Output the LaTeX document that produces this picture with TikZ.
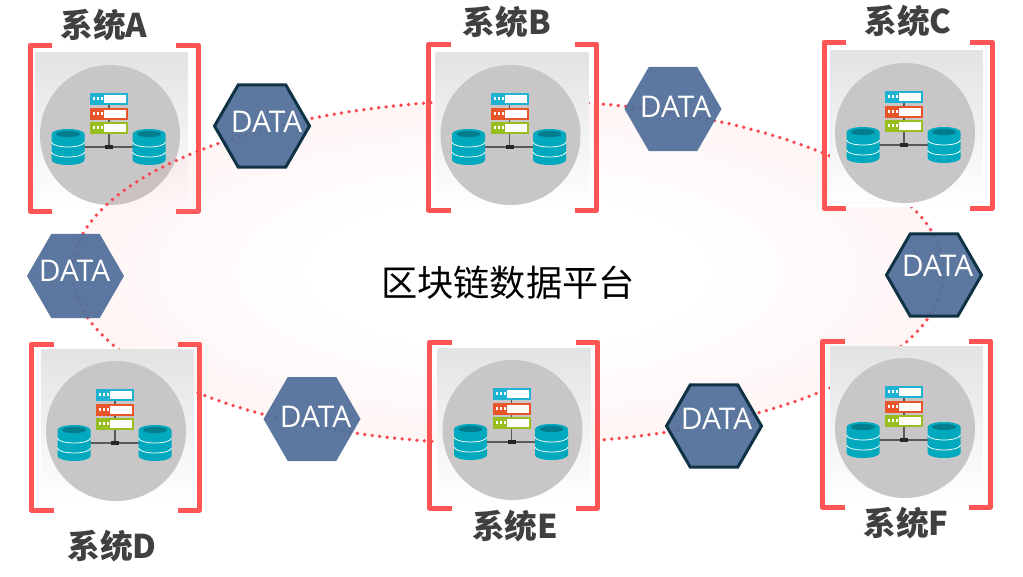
\documentclass[tikz,border=0pt]{standalone}
\usepackage{fontspec}
\setmainfont{Open Sans}
\newfontfamily\cjk{Noto Sans CJK SC}
\usetikzlibrary{shapes.geometric}

\definecolor{bracketred}{HTML}{FF5555}
\definecolor{dotred}{HTML}{F9474E}
\definecolor{hexblue}{HTML}{506E9A}
\definecolor{hexdark}{HTML}{0F3345}
\definecolor{labelgray}{HTML}{404040}
\definecolor{discgray}{HTML}{C8C6C6}
\definecolor{dbteal}{HTML}{00A9BE}
\definecolor{dbdark}{HTML}{007E8F}
\definecolor{srvblue}{HTML}{1FB3D1}
\definecolor{srvred}{HTML}{E8552A}
\definecolor{srvgreen}{HTML}{97BE1E}
\definecolor{chainpink}{HTML}{FF8C8C}

\pgfdeclareradialshading{chainglow}{\pgfpoint{0bp}{0bp}}{color(0bp)=(white); color(11bp)=(white); color(25bp)=(chainpink); color(50bp)=(chainpink)}

\tikzset{
    hexdata/.style={regular polygon, regular polygon sides=6, fill=hexblue, fill opacity=0.93, inner sep=0pt, minimum size=19.4mm},
    hexedge/.style={hexdata, draw=hexdark, draw opacity=1, line width=0.6mm, minimum size=19mm},
    datatext/.style={text=white, inner sep=0pt, font=\fontsize{17}{17}\selectfont},
    syslabel/.style={text=labelgray, inner sep=0pt, font=\fontsize{18.6}{18.6}\selectfont\bfseries\cjk},
    panel/.style={minimum width=30.6mm, minimum height=31mm, inner sep=0pt, top color=black!11, bottom color=white},
    disc/.style={circle, fill=discgray, minimum size=28mm, inner sep=0pt},
    bracket/.style={bracketred, line width=1mm, line join=round},
}

% #1 name, #2 bracket centre, #3 disc centre, #4 label position, #5 label
\newcommand{\sysbox}[5]{
    \path (#3) ++(1.5,4.5) node[panel] (#1panel) {};
    \node[disc] (#1disc) at (#3) {};
    \begin{scope}[shift={(#3)}]
        \draw[black!65, line width=0.25mm] (-1,30) -- (-1,-12);
        \draw[black!65, line width=0.25mm] (-27,-12) -- (25,-12);
        \fill[black!85] (-5,-14) rectangle (3,-10);
        \foreach \rowy/\rowcol in {36/srvblue,21.5/srvred,7.5/srvgreen} {
            \fill[\rowcol] (-20,\rowy-6) rectangle (18,\rowy+6);
            \fill[white] (-6,\rowy-4) rectangle (16,\rowy+4);
            \foreach \dotx in {-16,-12,-8}
                \fill[white] (\dotx-1,\rowy-1) rectangle (\dotx+1,\rowy+2);
        }
        \foreach \dbx in {-42,39} {
            \fill[dbteal] (\dbx-16.5,1) -- (\dbx-16.5,-25) arc[start angle=180, end angle=360, x radius=16.5, y radius=5] -- (\dbx+16.5,1) arc[start angle=0, end angle=180, x radius=16.5, y radius=5] -- cycle;
            \fill[dbdark] (\dbx,1) ellipse[x radius=12, y radius=3.2];
            \draw[white, line width=0.15mm] (\dbx-16.5,-7) arc[start angle=180, end angle=360, x radius=16.5, y radius=5];
            \draw[white, line width=0.15mm] (\dbx-16.5,-17) arc[start angle=180, end angle=360, x radius=16.5, y radius=5];
        }
    \end{scope}
    \begin{scope}[shift={(#2)}]
        \draw[bracket] (-62,83) -- (-84,83) -- (-84,-83) -- (-62,-83);
        \draw[bracket] (62,83) -- (84,83) -- (84,-83) -- (62,-83);
    \end{scope}
    \node[syslabel] (#1label) at (#4) {#5};
}

\begin{document}
\begin{tikzpicture}[x=0.2mm, y=0.2mm]
    \useasboundingbox (0,0) rectangle (1023,576);

    \sysbox{sysA}{114,448}{110,441}{104,551}{系统A}

    \node[ellipse, minimum width=174.4mm, minimum height=68.8mm, inner sep=0pt, shading=chainglow, fill opacity=0.09, text opacity=1, draw=dotred, draw opacity=1, line width=0.75mm, dash pattern=on 0pt off 1.5mm, line cap=round] (chain) at (508,304) {};
    \node[font=\fontsize{20.6}{20.6}\selectfont\cjk, inner sep=0pt] (title) at (508,293) {区块链数据平台};

    \sysbox{sysB}{512.5,449}{510.5,441}{507,554}{系统B}
    \sysbox{sysC}{908,451}{905,443}{908,555}{系统C}
    \sysbox{sysD}{115.5,149}{116,145}{112,30}{系统D}
    \sysbox{sysE}{513.5,151}{512.5,146}{515,50}{系统E}
    \sysbox{sysF}{906.5,152}{905,148}{906,53}{系统F}

    \node[hexedge] (hexAB) at (262,450) {};
    \node[hexdata] (hexBC) at (673,467) {};
    \node[hexdata] (hexAD) at (75.5,300) {};
    \node[hexedge] (hexCF) at (934,301) {};
    \node[hexdata] (hexDE) at (312,157) {};
    \node[hexedge] (hexEF) at (714,150) {};

    \node[datatext] (dataAB) at ([shift={(4.5,4)}]hexAB.center) {DATA};
    \node[datatext] (dataBC) at ([shift={(2.5,2)}]hexBC.center) {DATA};
    \node[datatext] (dataAD) at ([shift={(-1,5)}]hexAD.center) {DATA};
    \node[datatext] (dataCF) at ([shift={(3.5,9)}]hexCF.center) {DATA};
    \node[datatext] (dataDE) at ([shift={(3.5,2)}]hexDE.center) {DATA};
    \node[datatext] (dataEF) at ([shift={(2.5,7)}]hexEF.center) {DATA};
\end{tikzpicture}
\end{document}
